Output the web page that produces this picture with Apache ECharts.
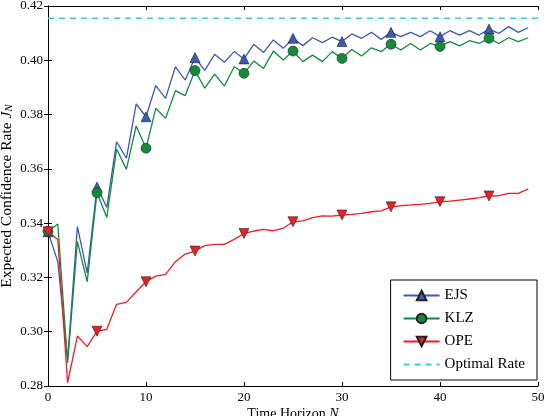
<!DOCTYPE html>
<html>
<head>
<meta charset="utf-8">
<script src="https://cdn.jsdelivr.net/npm/echarts@6/dist/echarts.min.js"></script>
<style>
    html, body { margin: 0; padding: 0; background: #fff; }
    #chart { width: 546px; height: 416px; }
</style>
</head>
<body>
<div id="chart"></div>
<script>
// 数据：横轴 N = 0..49，每 5 个点画一个标记
var horizon = [0, 1, 2, 3, 4, 5, 6, 7, 8, 9, 10, 11, 12, 13, 14, 15, 16, 17, 18, 19,
    20, 21, 22, 23, 24, 25, 26, 27, 28, 29, 30, 31, 32, 33, 34, 35, 36, 37, 38, 39,
    40, 41, 42, 43, 44, 45, 46, 47, 48, 49];

var ejs = [0.3368, 0.3258, 0.2896, 0.3387, 0.3216, 0.3533, 0.3458, 0.3700, 0.3639, 0.3839,
    0.3792, 0.3907, 0.3860, 0.3976, 0.3927, 0.4010, 0.3963, 0.4022, 0.3993, 0.4032,
    0.4005, 0.4059, 0.4029, 0.4075, 0.4044, 0.4081, 0.4054, 0.4083, 0.4065, 0.4085,
    0.4069, 0.4097, 0.4081, 0.4103, 0.4077, 0.4103, 0.4087, 0.4103, 0.4087, 0.4109,
    0.4087, 0.4109, 0.4093, 0.4109, 0.4093, 0.4115, 0.4099, 0.4124, 0.4103, 0.4120];

var klz = [0.3370, 0.3397, 0.2885, 0.3332, 0.3184, 0.3512, 0.3421, 0.3673, 0.3598, 0.3758,
    0.3676, 0.3823, 0.3786, 0.3888, 0.3870, 0.3962, 0.3897, 0.3949, 0.3905, 0.3976,
    0.3952, 0.3997, 0.3970, 0.4034, 0.4001, 0.4034, 0.3995, 0.4019, 0.3995, 0.4032,
    0.4007, 0.4040, 0.4016, 0.4046, 0.4032, 0.4059, 0.4038, 0.4062, 0.4038, 0.4062,
    0.4051, 0.4069, 0.4053, 0.4072, 0.4062, 0.4081, 0.4062, 0.4083, 0.4069, 0.4083];

var ope = [0.3368, 0.3340, 0.2812, 0.2984, 0.2945, 0.3002, 0.3009, 0.3101, 0.3108, 0.3147,
    0.3184, 0.3205, 0.3211, 0.3258, 0.3286, 0.3297, 0.3317, 0.3322, 0.3322, 0.3340,
    0.3362, 0.3371, 0.3377, 0.3372, 0.3381, 0.3405, 0.3408, 0.3420, 0.3427, 0.3426,
    0.3430, 0.3432, 0.3436, 0.3442, 0.3445, 0.3460, 0.3464, 0.3467, 0.3469, 0.3473,
    0.3479, 0.3481, 0.3485, 0.3489, 0.3494, 0.3500, 0.3501, 0.3510, 0.3510, 0.3526];

var optimalRate = 0.4155;

var xTicks = [0, 10, 20, 30, 40, 50];
var yTicks = [0.28, 0.30, 0.32, 0.34, 0.36, 0.38, 0.40, 0.42];

var serif = 'Liberation Serif';
var markEvery = 5;

// 把数组变成 [N, 值]，只有每 5 个点显示标记
function toPoints(values) {
    return values.map(function (v, i) {
        return {
            value: [horizon[i], v],
            symbolSize: i % markEvery === 0 ? 10 : 0
        };
    });
}

function lineSeries(name, values, color, symbol, rotate) {
    return {
        name: name,
        type: 'line',
        data: toPoints(values),
        symbol: symbol,
        symbolSize: 10,
        symbolRotate: rotate,
        showAllSymbol: true,
        animation: false,
        lineStyle: { color: color, width: 1.3 },
        itemStyle: { color: color, borderColor: '#222', borderWidth: 0.6 },
        emphasis: { disabled: true },
        z: 3
    };
}

var myChart = echarts.init(document.getElementById('chart'));

var tickStyle = { inside: true, length: 4, lineStyle: { color: '#000' } };
var lineStyle = { lineStyle: { color: '#000', width: 1 } };
var xMin = xTicks[0], xMax = xTicks[xTicks.length - 1];
var yMin = yTicks[0], yMax = yTicks[yTicks.length - 1];

var option = {
    backgroundColor: '#fff',
    animation: false,
    grid: { left: 48, right: 8, top: 6, bottom: 30, outerBoundsMode: 'none', containLabel: false },
    legend: {
        orient: 'vertical',
        right: 9,
        bottom: 36,
        padding: [8, 12, 8, 12],
        itemGap: 8,
        itemWidth: 36,
        itemHeight: 12,
        backgroundColor: '#fff',
        borderColor: '#000',
        borderWidth: 1,
        borderRadius: 0,
        textStyle: { fontFamily: serif, fontSize: 15, color: '#000' },
        data: ['EJS', 'KLZ', 'OPE', { name: 'Optimal Rate', itemStyle: { opacity: 0 } }]
    },
    xAxis: [{
        type: 'value',
        min: xMin,
        max: xMax,
        interval: 10,
        name: 'Time Horizon {i|N}',
        nameLocation: 'middle',
        nameGap: 21,
        nameMoveOverlap: false,
        nameTextStyle: {
            fontFamily: serif, fontSize: 14, color: '#000',
            rich: { i: { fontFamily: serif, fontSize: 14, fontStyle: 'italic', color: '#000' } }
        },
        axisLine: lineStyle,
        axisTick: tickStyle,
        splitLine: { show: false },
        axisLabel: { fontFamily: serif, fontSize: 13, color: '#000', margin: 5 }
    }, {
        type: 'value',
        position: 'top',
        min: xMin,
        max: xMax,
        interval: 10,
        axisLine: lineStyle,
        axisTick: tickStyle,
        splitLine: { show: false },
        axisLabel: { show: false }
    }],
    yAxis: [{
        type: 'value',
        min: yMin,
        max: yMax,
        interval: 0.02,
        name: '{t|Expected Confidence Rate }{i|J}{s|N}',
        nameLocation: 'middle',
        nameGap: 33,
        nameMoveOverlap: false,
        nameTextStyle: {
            rich: {
                t: { fontFamily: serif, fontSize: 15.5, color: '#000' },
                i: { fontFamily: serif, fontSize: 15.5, fontStyle: 'italic', color: '#000' },
                s: { fontFamily: serif, fontSize: 11, fontStyle: 'italic', color: '#000', verticalAlign: 'bottom' }
            }
        },
        axisLine: lineStyle,
        axisTick: tickStyle,
        splitLine: { show: false },
        axisLabel: {
            fontFamily: serif, fontSize: 13, color: '#000', margin: 5,
            formatter: function (v) { return v.toFixed(2); }
        }
    }, {
        type: 'value',
        position: 'right',
        min: yMin,
        max: yMax,
        interval: 0.02,
        axisLine: lineStyle,
        axisTick: tickStyle,
        splitLine: { show: false },
        axisLabel: { show: false }
    }],
    series: [
        lineSeries('EJS', ejs, '#3d5ab3', 'triangle', 0),
        lineSeries('KLZ', klz, '#138a3c', 'circle', 0),
        lineSeries('OPE', ope, '#e8202a', 'triangle', 180),
        {
            // 水平虚线：从 x 轴最小值画到最大值
            name: 'Optimal Rate',
            type: 'line',
            data: [[xMin, optimalRate], [xMax, optimalRate]],
            symbol: 'none',
            lineStyle: { color: '#3fcdcd', width: 1.5, type: [6, 5] },
            itemStyle: { color: '#3fcdcd' },
            emphasis: { disabled: true },
            z: 2
        }
    ]
};

myChart.setOption(option);
</script>
</body>
</html>
